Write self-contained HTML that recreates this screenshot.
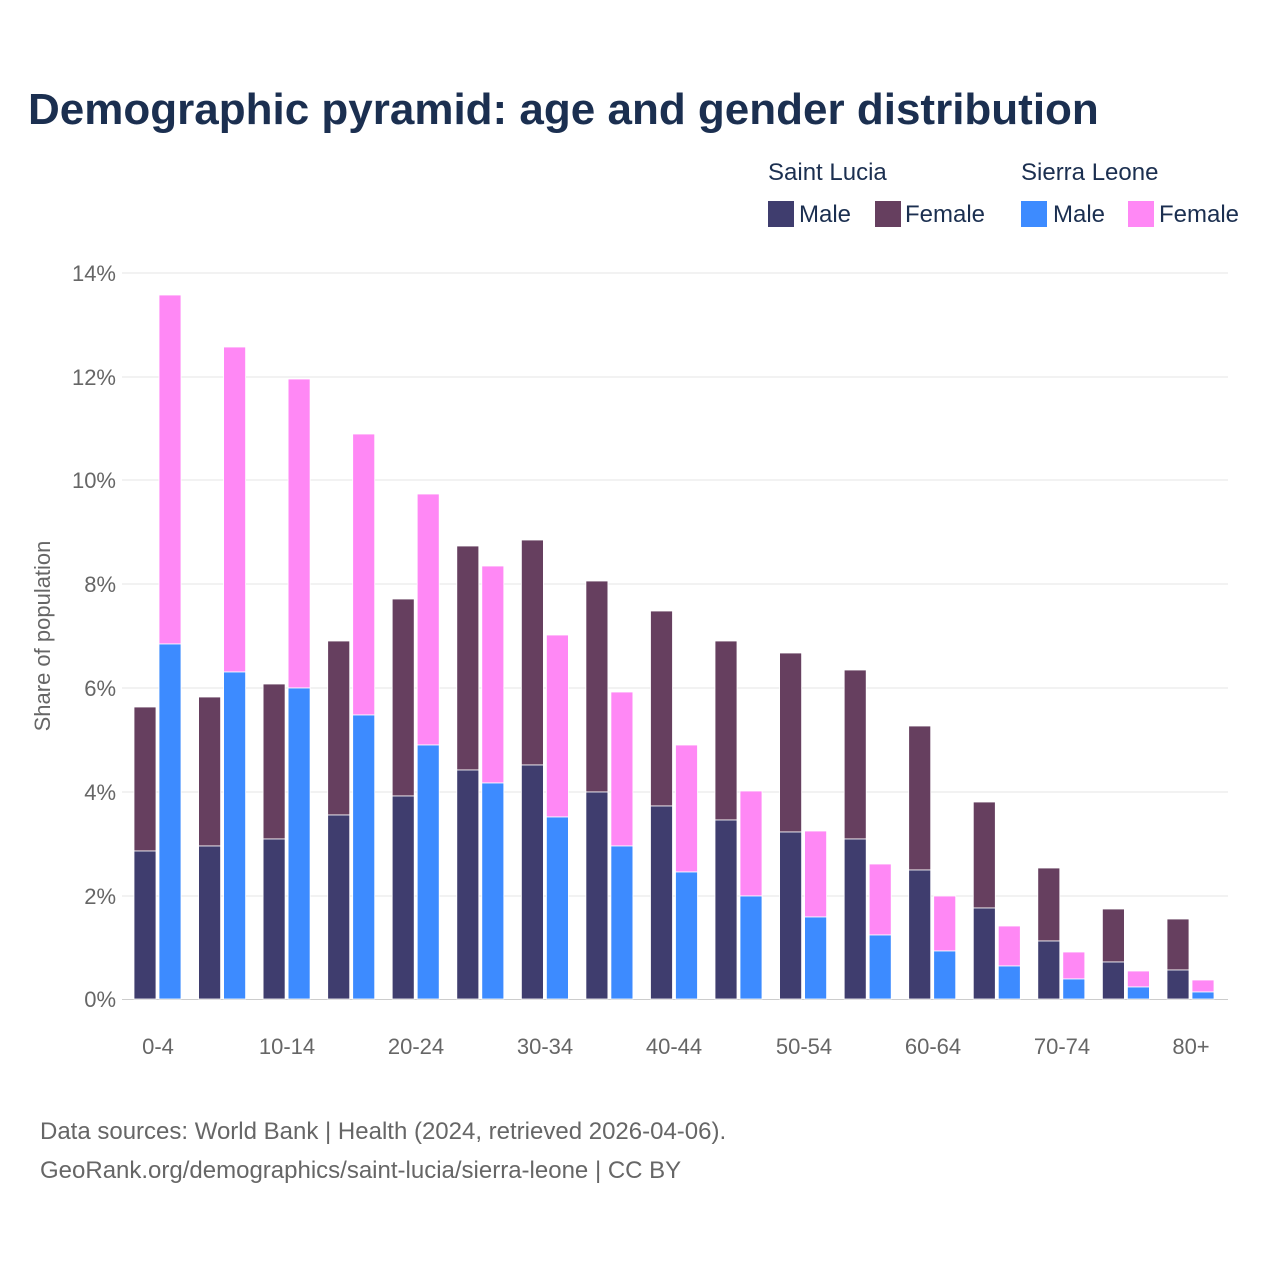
<!DOCTYPE html>
<html><head><meta charset="utf-8"><style>
body{margin:0;background:#fff;}
svg{display:block;font-family:"Liberation Sans",sans-serif;}
</style></head><body>
<svg width="1280" height="1280" viewBox="0 0 1280 1280">
<rect width="1280" height="1280" fill="#fff"/>
<text x="28" y="124" font-size="44" font-weight="bold" fill="#1b2f50">Demographic pyramid: age and gender distribution</text>
<g font-size="24" fill="#1b2f50">
<text x="768" y="180">Saint Lucia</text>
<text x="1021" y="180">Sierra Leone</text>
<rect x="768" y="201" width="26" height="26" fill="#3f3d6e"/><text x="799" y="222">Male</text>
<rect x="875" y="201" width="26" height="26" fill="#663f5f"/><text x="905" y="222">Female</text>
<rect x="1021" y="201" width="26" height="26" fill="#3d8bff"/><text x="1053" y="222">Male</text>
<rect x="1128" y="201" width="26" height="26" fill="#ff88f5"/><text x="1159" y="222">Female</text>
</g>
<g stroke="#e6e6e6" stroke-width="1">
<line x1="122" x2="1228" y1="273" y2="273"/><line x1="122" x2="1228" y1="377" y2="377"/>
<line x1="122" x2="1228" y1="480" y2="480"/><line x1="122" x2="1228" y1="584" y2="584"/>
<line x1="122" x2="1228" y1="688" y2="688"/><line x1="122" x2="1228" y1="792" y2="792"/>
<line x1="122" x2="1228" y1="896" y2="896"/><line x1="122" x2="1228" y1="999.5" y2="999.5" stroke="#ccc"/>
</g>
<g font-size="22" fill="#666" text-anchor="end">
<text x="116" y="281">14%</text><text x="116" y="385">12%</text><text x="116" y="488">10%</text>
<text x="116" y="592">8%</text><text x="116" y="696">6%</text><text x="116" y="800">4%</text>
<text x="116" y="904">2%</text><text x="116" y="1007">0%</text>
</g>
<text transform="translate(50,636) rotate(-90)" font-size="22" fill="#666" text-anchor="middle">Share of population</text>
<g font-size="22" fill="#666" text-anchor="middle">
<text x="158" y="1054">0-4</text><text x="287" y="1054">10-14</text><text x="416" y="1054">20-24</text>
<text x="545" y="1054">30-34</text><text x="674" y="1054">40-44</text><text x="804" y="1054">50-54</text>
<text x="933" y="1054">60-64</text><text x="1062" y="1054">70-74</text><text x="1191" y="1054">80+</text>
</g>
<g stroke="#fff" stroke-width="0.8">
<!-- Saint Lucia -->
<g>
<rect x="134" y="707" width="22" height="144" fill="#663f5f"/><rect x="134" y="851" width="22" height="148" fill="#3f3d6e"/>
<rect x="198.6" y="697" width="22" height="149" fill="#663f5f"/><rect x="198.6" y="846" width="22" height="153" fill="#3f3d6e"/>
<rect x="263.1" y="684" width="22" height="155" fill="#663f5f"/><rect x="263.1" y="839" width="22" height="160" fill="#3f3d6e"/>
<rect x="327.7" y="641" width="22" height="174" fill="#663f5f"/><rect x="327.7" y="815" width="22" height="184" fill="#3f3d6e"/>
<rect x="392.2" y="599" width="22" height="197" fill="#663f5f"/><rect x="392.2" y="796" width="22" height="203" fill="#3f3d6e"/>
<rect x="456.8" y="546" width="22" height="224" fill="#663f5f"/><rect x="456.8" y="770" width="22" height="229" fill="#3f3d6e"/>
<rect x="521.4" y="540" width="22" height="225" fill="#663f5f"/><rect x="521.4" y="765" width="22" height="234" fill="#3f3d6e"/>
<rect x="585.9" y="581" width="22" height="211" fill="#663f5f"/><rect x="585.9" y="792" width="22" height="207" fill="#3f3d6e"/>
<rect x="650.5" y="611" width="22" height="195" fill="#663f5f"/><rect x="650.5" y="806" width="22" height="193" fill="#3f3d6e"/>
<rect x="715" y="641" width="22" height="179" fill="#663f5f"/><rect x="715" y="820" width="22" height="179" fill="#3f3d6e"/>
<rect x="779.6" y="653" width="22" height="179" fill="#663f5f"/><rect x="779.6" y="832" width="22" height="167" fill="#3f3d6e"/>
<rect x="844.2" y="670" width="22" height="169" fill="#663f5f"/><rect x="844.2" y="839" width="22" height="160" fill="#3f3d6e"/>
<rect x="908.7" y="726" width="22" height="144" fill="#663f5f"/><rect x="908.7" y="870" width="22" height="129" fill="#3f3d6e"/>
<rect x="973.3" y="802" width="22" height="106" fill="#663f5f"/><rect x="973.3" y="908" width="22" height="91" fill="#3f3d6e"/>
<rect x="1037.8" y="868" width="22" height="73" fill="#663f5f"/><rect x="1037.8" y="941" width="22" height="58" fill="#3f3d6e"/>
<rect x="1102.4" y="909" width="22" height="53" fill="#663f5f"/><rect x="1102.4" y="962" width="22" height="37" fill="#3f3d6e"/>
<rect x="1167" y="919" width="22" height="51" fill="#663f5f"/><rect x="1167" y="970" width="22" height="29" fill="#3f3d6e"/>
</g>
<!-- Sierra Leone -->
<g>
<rect x="159" y="295" width="22" height="349" fill="#ff88f5"/><rect x="159" y="644" width="22" height="355" fill="#3d8bff"/>
<rect x="223.6" y="347" width="22" height="325" fill="#ff88f5"/><rect x="223.6" y="672" width="22" height="327" fill="#3d8bff"/>
<rect x="288.1" y="379" width="22" height="309" fill="#ff88f5"/><rect x="288.1" y="688" width="22" height="311" fill="#3d8bff"/>
<rect x="352.7" y="434" width="22" height="281" fill="#ff88f5"/><rect x="352.7" y="715" width="22" height="284" fill="#3d8bff"/>
<rect x="417.2" y="494" width="22" height="251" fill="#ff88f5"/><rect x="417.2" y="745" width="22" height="254" fill="#3d8bff"/>
<rect x="481.8" y="566" width="22" height="217" fill="#ff88f5"/><rect x="481.8" y="783" width="22" height="216" fill="#3d8bff"/>
<rect x="546.4" y="635" width="22" height="182" fill="#ff88f5"/><rect x="546.4" y="817" width="22" height="182" fill="#3d8bff"/>
<rect x="610.9" y="692" width="22" height="154" fill="#ff88f5"/><rect x="610.9" y="846" width="22" height="153" fill="#3d8bff"/>
<rect x="675.5" y="745" width="22" height="127" fill="#ff88f5"/><rect x="675.5" y="872" width="22" height="127" fill="#3d8bff"/>
<rect x="740" y="791" width="22" height="105" fill="#ff88f5"/><rect x="740" y="896" width="22" height="103" fill="#3d8bff"/>
<rect x="804.6" y="831" width="22" height="86" fill="#ff88f5"/><rect x="804.6" y="917" width="22" height="82" fill="#3d8bff"/>
<rect x="869.2" y="864" width="22" height="71" fill="#ff88f5"/><rect x="869.2" y="935" width="22" height="64" fill="#3d8bff"/>
<rect x="933.7" y="896" width="22" height="55" fill="#ff88f5"/><rect x="933.7" y="951" width="22" height="48" fill="#3d8bff"/>
<rect x="998.3" y="926" width="22" height="40" fill="#ff88f5"/><rect x="998.3" y="966" width="22" height="33" fill="#3d8bff"/>
<rect x="1062.8" y="952" width="22" height="27" fill="#ff88f5"/><rect x="1062.8" y="979" width="22" height="20" fill="#3d8bff"/>
<rect x="1127.4" y="971" width="22" height="16" fill="#ff88f5"/><rect x="1127.4" y="987" width="22" height="12" fill="#3d8bff"/>
<rect x="1192" y="980" width="22" height="12" fill="#ff88f5"/><rect x="1192" y="992" width="22" height="7" fill="#3d8bff"/>
</g>
</g>
<g font-size="24" fill="#666">
<text x="40" y="1139">Data sources: World Bank | Health (2024, retrieved 2026-04-06).</text>
<text x="40" y="1178">GeoRank.org/demographics/saint-lucia/sierra-leone | CC BY</text>
</g>
</svg>
</body></html>
